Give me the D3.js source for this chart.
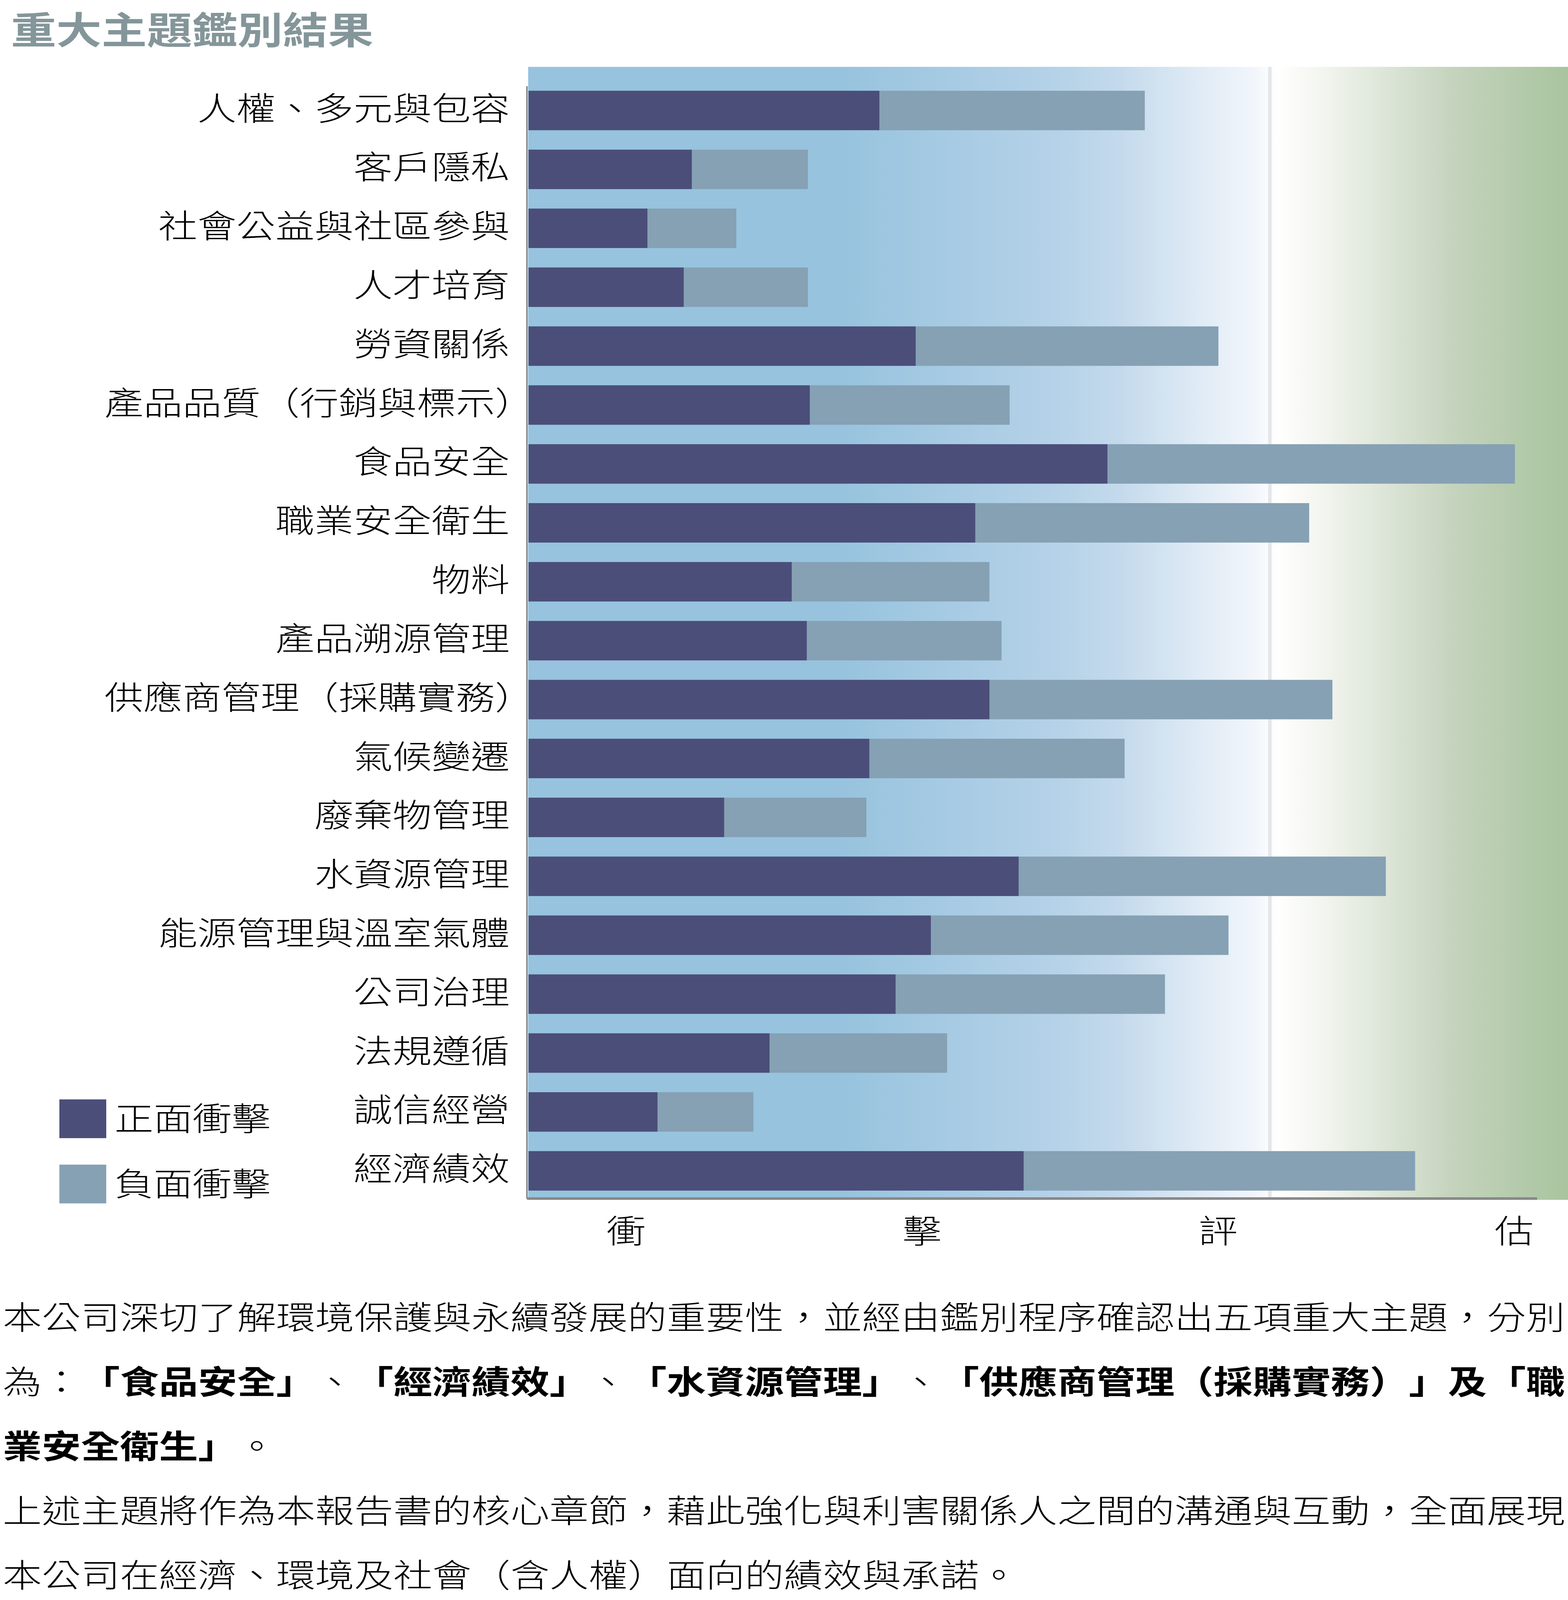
<!DOCTYPE html>
<html>
<head>
<meta charset="utf-8">
<script src="https://cdn.jsdelivr.net/npm/d3@7"></script>
<style>
  html, body { margin: 0; padding: 0; background: #fff; overflow: hidden; }
  svg { display: block; width: 100vw; height: 100vh; }
  text {
    font-family: "Noto Sans CJK TC Light", "Noto Sans CJK TC", "Noto Sans CJK SC", sans-serif;
    text-spacing-trim: space-all;
  }
</style>
</head>
<body>
<div id="chart"></div>
<script>
// data (x in arbitrary impact units, 0-100 = axis length)
var categories = ["人權、多元與包容", "客戶隱私", "社會公益與社區參與", "人才培育", "勞資關係",
  "產品品質（行銷與標示）", "食品安全", "職業安全衛生", "物料", "產品溯源管理",
  "供應商管理（採購實務）", "氣候變遷", "廢棄物管理", "水資源管理", "能源管理與溫室氣體",
  "公司治理", "法規遵循", "誠信經營", "經濟績效"];
var positiveImpact = [34.8, 16.2, 11.8, 15.4, 38.4, 27.9, 57.4, 44.3, 26.1, 27.6,
  45.7, 33.8, 19.4, 48.6, 39.9, 36.4, 23.9, 12.8, 49.1];
var negativeImpact = [26.3, 11.5, 8.8, 12.3, 30.0, 19.8, 40.4, 33.1, 19.6, 19.3,
  34.0, 25.3, 14.1, 36.4, 29.5, 26.7, 17.6, 9.5, 38.8];
var seriesNames = ["正面衝擊", "負面衝擊"];
var axisChars = ["衝", "擊", "評", "估"];
var gridValue = 73.5;

var titleText = "重大主題鑑別結果";
var paragraphLines = [
  [["本公司深切了解環境保護與永續發展的重要性，並經由鑑別程序確認出五項重大主題，分別", false]],
  [["為：", false], ["「食品安全」", true], ["、", false], ["「經濟績效」", true], ["、", false],
   ["「水資源管理」", true], ["、", false], ["「供應商管理（採購實務）」及「職", true]],
  [["業安全衛生」", true], ["。", false]],
  [["上述主題將作為本報告書的核心章節，藉此強化與利害關係人之間的溝通與互動，全面展現", false]],
  [["本公司在經濟、環境及社會（含人權）面向的績效與承諾。", false]]
];

var width = 4014, height = 4954;
var colors = ["#4b4e79", "#86a1b4"];
var fontSize = 100;

var svg = d3.select("#chart").append("svg")
  .attr("viewBox", "0 0 " + width + " " + height)
  .attr("preserveAspectRatio", "none");

// background gradient
var defs = svg.append("defs");
var grad = defs.append("linearGradient").attr("id", "bg-gradient");
[[0, "#97c3de"], [0.30, "#97c3de"], [0.38, "#a3c9e2"], [0.51, "#b5d2e8"], [0.57, "#c4daec"],
 [0.636, "#dce9f4"], [0.70, "#f2f6fb"], [0.72, "#ffffff"], [0.764, "#f3f5ef"],
 [0.828, "#dbe4d6"], [0.892, "#c4d3bc"], [1, "#a8c49e"]].forEach(function (s) {
  grad.append("stop").attr("offset", s[0]).attr("stop-color", s[1]);
});

var x = d3.scaleLinear().domain([0, 100]).range([1353, 3935]);
var y = d3.scaleBand()
  .domain(categories)
  .range([208, 208 + 182.4 * (categories.length - 0.33 + 0.8)])
  .paddingInner(0.33)
  .paddingOuter(0.4);

svg.append("rect")
  .attr("x", 1352).attr("y", 207)
  .attr("width", width - 1352).attr("height", 3715 - 207)
  .attr("fill", "url(#bg-gradient)");

svg.append("line")
  .attr("x1", x(gridValue)).attr("x2", x(gridValue))
  .attr("y1", 207).attr("y2", 3708)
  .attr("stroke", "#e4e6ea").attr("stroke-width", 9);

// stacked bars
var table = categories.map(function (c, i) {
  return { name: c, pos: positiveImpact[i], neg: negativeImpact[i] };
});
var stacked = d3.stack().keys(["pos", "neg"])(table);

svg.append("g").selectAll("g")
  .data(stacked)
  .join("g")
  .attr("fill", function (d, i) { return colors[i]; })
  .selectAll("rect")
  .data(function (d) { return d; })
  .join("rect")
  .attr("x", function (d) { return x(d[0]); })
  .attr("y", function (d) { return y(d.data.name); })
  .attr("width", function (d) { return x(d[1]) - x(d[0]); })
  .attr("height", y.bandwidth());

// axes
svg.append("line")
  .attr("x1", 1349).attr("x2", 1349)
  .attr("y1", 267).attr("y2", 3712)
  .attr("stroke", "#8a8a8a").attr("stroke-width", 4);

svg.append("line")
  .attr("x1", x(0) - 4).attr("x2", x(100))
  .attr("y1", 3711).attr("y2", 3711)
  .attr("stroke", "#888888").attr("stroke-width", 8);

var yAxis = svg.append("g")
  .attr("transform", "translate(1349,0)")
  .call(d3.axisLeft(y).tickSize(0).tickPadding(44));
yAxis.select(".domain").remove();
yAxis.selectAll("text")
  .attr("font-size", fontSize)
  .attr("font-weight", 300)
  .attr("fill", "#000")
  .attr("font-family", null)
  .attr("dy", "0.30em");

// the closing full-width bracket leaves blank space on its right: pull those labels over
yAxis.selectAll("text")
  .filter(function (d) { return /）$/.test(d); })
  .attr("x", -44 + 62);

var xc = d3.scalePoint().domain(axisChars).range([x(9.65), x(97.7)]);
var xAxis = svg.append("g")
  .attr("transform", "translate(0,3712)")
  .call(d3.axisBottom(xc).tickSize(0));
xAxis.select(".domain").remove();
xAxis.selectAll("text")
  .attr("y", 101)
  .attr("dy", "0.36em")
  .attr("font-size", fontSize)
  .attr("font-weight", 300)
  .attr("fill", "#000")
  .attr("font-family", null);

// legend
var legend = svg.append("g").selectAll("g")
  .data(seriesNames)
  .join("g")
  .attr("transform", function (d, i) { return "translate(152," + (3404 + i * 202) + ")"; });
legend.append("rect")
  .attr("width", 120).attr("height", 120)
  .attr("fill", function (d, i) { return colors[i]; });
legend.append("text")
  .attr("x", 141).attr("y", 60).attr("dy", "0.36em")
  .attr("font-size", fontSize).attr("font-weight", 300).attr("fill", "#000")
  .text(function (d) { return d; });

// title
svg.append("text")
  .attr("x", 28).attr("y", 94).attr("dy", "0.36em")
  .attr("font-size", 116).attr("font-weight", 700)
  .style("font-family", "'Noto Sans CJK TC', sans-serif")
  .attr("fill", "#84969a")
  .text(titleText);

// paragraph
var para = svg.append("g").selectAll("text")
  .data(paragraphLines)
  .join("text")
  .attr("x", 7)
  .attr("y", function (d, i) { return 4080 + i * 199.5; })
  .attr("dy", "0.36em")
  .attr("font-size", fontSize)
  .attr("fill", "#000");
para.selectAll("tspan")
  .data(function (d) { return d; })
  .join("tspan")
  .attr("font-weight", function (d) { return d[1] ? 700 : 300; })
  .style("font-family", function (d) {
    return d[1] ? "'Noto Sans CJK TC', sans-serif" : null;
  })
  .text(function (d) { return d[0]; });
</script>
</body>
</html>
